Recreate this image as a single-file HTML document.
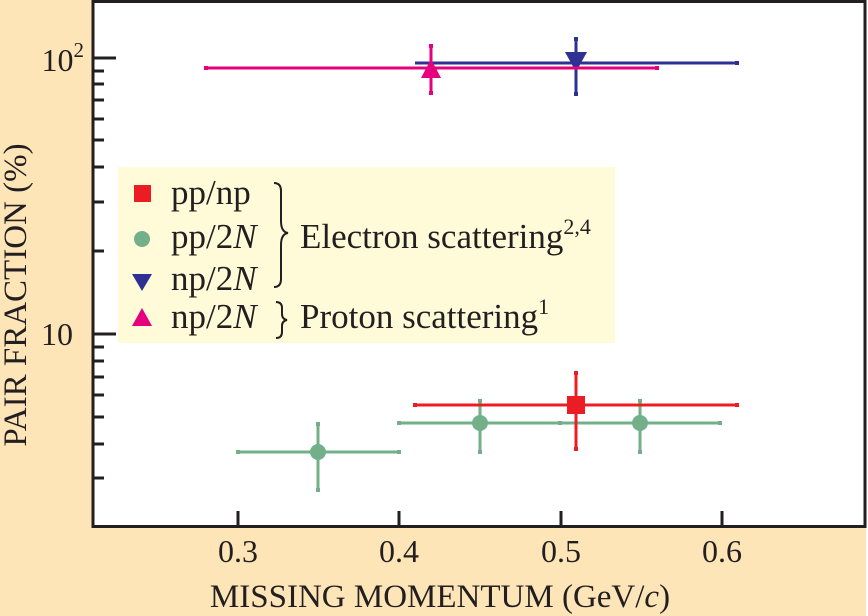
<!DOCTYPE html>
<html><head><meta charset="utf-8"><style>body{margin:0;background:#fde5b8}svg{display:block}</style></head>
<body>
<svg width="868" height="616" viewBox="0 0 868 616" xmlns="http://www.w3.org/2000/svg" font-family="'Liberation Serif',serif" fill="#231f20">
<rect width="868" height="616" fill="#fde5b8"/>
<rect x="866" y="0" width="2" height="616" fill="#fff"/>
<rect x="93" y="1.5" width="772" height="525" fill="#fff" stroke="#231f20" stroke-width="3"/>
<g stroke="#231f20" stroke-width="3">
<line x1="93" y1="58" x2="116" y2="58"/><line x1="93" y1="334" x2="116" y2="334"/>
<line x1="93" y1="71" x2="104" y2="71"/><line x1="93" y1="84" x2="104" y2="84"/><line x1="93" y1="100" x2="104" y2="100"/><line x1="93" y1="119" x2="104" y2="119"/><line x1="93" y1="140" x2="104" y2="140"/><line x1="93" y1="167" x2="104" y2="167"/><line x1="93" y1="202" x2="104" y2="202"/><line x1="93" y1="251" x2="104" y2="251"/>
<line x1="93" y1="347" x2="104" y2="347"/><line x1="93" y1="361" x2="104" y2="361"/><line x1="93" y1="377" x2="104" y2="377"/><line x1="93" y1="395" x2="104" y2="395"/><line x1="93" y1="417" x2="104" y2="417"/><line x1="93" y1="444" x2="104" y2="444"/><line x1="93" y1="478" x2="104" y2="478"/>
<line x1="238" y1="526" x2="238" y2="511"/><line x1="399" y1="526" x2="399" y2="511"/><line x1="561" y1="526" x2="561" y2="511"/><line x1="722" y1="526" x2="722" y2="511"/>
</g>
<g font-size="32" text-anchor="middle">
<text x="238" y="562">0.3</text><text x="399" y="562">0.4</text><text x="561" y="562">0.5</text><text x="722" y="562">0.6</text>
</g>
<text x="84" y="71" font-size="32" text-anchor="end">10<tspan font-size="21" dy="-14">2</tspan></text>
<text x="73" y="345" font-size="32" text-anchor="end">10</text>
<text x="440" y="607" font-size="33" text-anchor="middle">MISSING MOMENTUM (GeV/<tspan font-style="italic">c</tspan>)</text>
<text transform="translate(26,295) rotate(-90)" font-size="33" text-anchor="middle">PAIR FRACTION (%)</text>
<rect x="118" y="167" width="497" height="176" fill="#fffad8"/>
<rect x="134" y="185" width="17" height="17" fill="#ec1c24"/>
<circle cx="142" cy="239" r="8" fill="#73b08a"/>
<polygon points="132,274 152,274 142,291" fill="#2e3192"/>
<polygon points="132,326 152,326 142,308" fill="#e6007e"/>
<g font-size="35">
<text x="171" y="204">pp/np</text>
<text x="171" y="248">pp/2<tspan font-style="italic">N</tspan></text>
<text x="171" y="290">np/2<tspan font-style="italic">N</tspan></text>
<text x="171" y="328">np/2<tspan font-style="italic">N</tspan></text>
<text x="300" y="248">Electron scattering<tspan font-size="22" dy="-14">2,4</tspan></text>
<text x="300" y="328">Proton scattering<tspan font-size="22" dy="-14">1</tspan></text>
</g>
<path d="M274,183 q7,0 7,8 v30 q0,11 7,12 q-7,1 -7,12 v34 q0,8 -7,8" fill="none" stroke="#231f20" stroke-width="2"/>
<path d="M276,302 q6,0 6,6 v6 q0,5 5,6 q-5,1 -5,6 v6 q0,6 -6,6" fill="none" stroke="#231f20" stroke-width="2"/>
<g stroke="#73b08a" stroke-width="3">
<line x1="238" y1="452" x2="399" y2="452"/><line x1="318" y1="424" x2="318" y2="490"/>
<line x1="399" y1="423" x2="560" y2="423"/><line x1="480" y1="401" x2="480" y2="452"/>
<line x1="560" y1="423" x2="720" y2="423"/><line x1="640" y1="401" x2="640" y2="452"/>
</g>
<g fill="#73b08a"><circle cx="318" cy="452" r="8"/><circle cx="480" cy="423" r="8"/><circle cx="640" cy="423" r="8"/>
<rect x="236" y="450" width="4" height="4"/><rect x="397" y="450" width="4" height="4"/><rect x="316" y="422" width="4" height="4"/><rect x="316" y="488" width="4" height="4"/>
<rect x="397" y="421" width="4" height="4"/><rect x="558" y="421" width="4" height="4"/><rect x="478" y="399" width="4" height="4"/><rect x="478" y="450" width="4" height="4"/>
<rect x="718" y="421" width="4" height="4"/><rect x="638" y="399" width="4" height="4"/><rect x="638" y="450" width="4" height="4"/></g>
<g stroke="#ec1c24" stroke-width="3"><line x1="415" y1="405" x2="737" y2="405"/><line x1="576" y1="373" x2="576" y2="449"/></g>
<g fill="#ec1c24"><rect x="567" y="396" width="18" height="18"/><rect x="413" y="403" width="4" height="4"/><rect x="735" y="403" width="4" height="4"/><rect x="574" y="371" width="4" height="4"/><rect x="574" y="447" width="4" height="4"/></g>
<g stroke="#2e3192" stroke-width="3"><line x1="415" y1="63" x2="737" y2="63"/><line x1="576" y1="39" x2="576" y2="94"/></g>
<g fill="#2e3192"><polygon points="565,52 587,52 576,72"/><rect x="735" y="61" width="4" height="4"/><rect x="574" y="37" width="4" height="4"/><rect x="574" y="92" width="4" height="4"/></g>
<g stroke="#e6007e" stroke-width="3"><line x1="206" y1="68" x2="657" y2="68"/><line x1="431" y1="46" x2="431" y2="93"/></g>
<g fill="#e6007e"><polygon points="421,78 441,78 431,59"/><rect x="204" y="66" width="4" height="4"/><rect x="655" y="66" width="4" height="4"/><rect x="429" y="44" width="4" height="4"/><rect x="429" y="91" width="4" height="4"/></g>
</svg>
</body></html>
